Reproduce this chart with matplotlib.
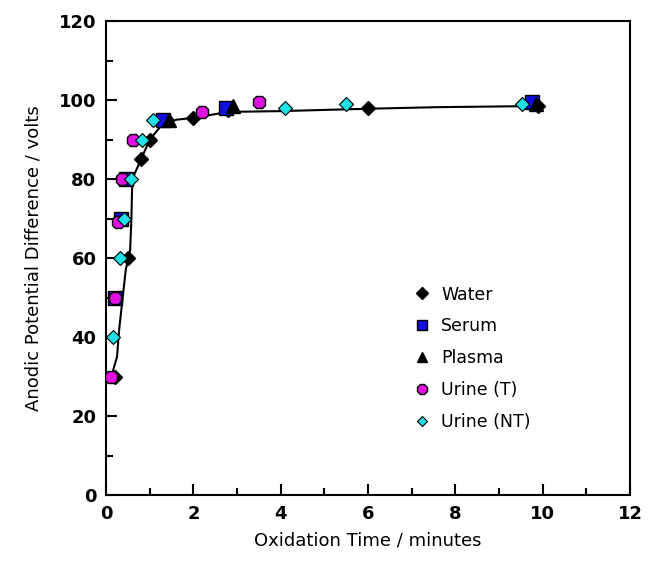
import numpy as np
import matplotlib
matplotlib.use('Agg')
import matplotlib.pyplot as plt
from matplotlib.ticker import MultipleLocator

# readings from the reference picture (minutes, volts)
water_t = [0.2, 0.5, 0.8, 1.0, 1.4, 2.0, 2.8, 6.0, 9.9]
water_v = [30, 60, 85, 90, 95, 95.5, 97.5, 98, 98.5]

serum_t = [0.2, 0.35, 0.45, 1.3, 2.75, 9.75]
serum_v = [50, 70, 80, 95, 98, 99.5]

plasma_t = [1.45, 2.9, 9.85]
plasma_v = [95, 98.5, 99]

urine_t_t = [0.12, 0.2, 0.28, 0.36, 0.62, 2.2, 3.5]
urine_t_v = [30, 50, 69, 80, 90, 97, 99.5]

urine_nt_t = [0.15, 0.32, 0.4, 0.56, 0.82, 1.08, 4.1, 5.5, 9.52]
urine_nt_v = [40, 60, 70, 80, 90, 95, 98, 99, 99]

# fitted curve
fit_t = [0.12, 0.25, 0.3, 0.38, 0.45, 0.55, 0.58, 0.6, 0.8, 1.0, 1.3, 1.6, 2.0, 2.8, 4.0, 6.0, 7.6, 10.0]
fit_v = [30, 35, 42, 50, 57, 62, 70, 80, 85, 90, 94, 95, 95.5, 97, 97.2, 97.8, 98.2, 98.5]

fig = plt.figure(figsize=(6.59, 5.69), dpi=100)
ax = fig.add_axes([0.161, 0.130, 0.795, 0.833])

ax.plot(fit_t, fit_v, '-', color='black', linewidth=1.5, zorder=2)

ms = 9.5
ax.plot(water_t, water_v, 'D', color='black', markersize=ms - 2, linestyle='none',
        label='Water', zorder=3)
ax.plot(serum_t, serum_v, 's', markerfacecolor='#1010e0', markeredgecolor='black',
        markersize=ms, linestyle='none', label='Serum', zorder=3)
ax.plot(plasma_t, plasma_v, '^', color='black', markersize=ms, linestyle='none',
        label='Plasma', zorder=3)
ax.plot(urine_t_t, urine_t_v, '8', markerfacecolor='#e010e0', markeredgecolor='black',
        markersize=ms, linestyle='none', label='Urine (T)', zorder=4)
ax.plot(urine_nt_t, urine_nt_v, 'D', markerfacecolor='#20e0e8', markeredgecolor='black',
        markersize=ms - 2.5, markeredgewidth=0.8, linestyle='none', label='Urine (NT)', zorder=5)

ax.set_xlim(0, 12)
ax.set_ylim(0, 120)
ax.xaxis.set_major_locator(MultipleLocator(2))
ax.xaxis.set_minor_locator(MultipleLocator(1))
ax.yaxis.set_major_locator(MultipleLocator(20))
ax.yaxis.set_minor_locator(MultipleLocator(10))
ax.tick_params(which='both', direction='in', top=False, right=False, width=1.5)
ax.tick_params(which='major', length=8, labelsize=13, pad=7)
ax.tick_params(which='minor', length=5)
for lab in ax.get_xticklabels() + ax.get_yticklabels():
    lab.set_fontweight('bold')
for sp in ax.spines.values():
    sp.set_linewidth(1.5)

ax.set_xlabel('Oxidation Time / minutes', fontsize=13, labelpad=6)
ax.set_ylabel('Anodic Potential Difference / volts', fontsize=13, labelpad=12)

leg = ax.legend(loc='upper left', bbox_to_anchor=(0.56, 0.475), frameon=False,
                fontsize=12.5, handlelength=0.8, handletextpad=0.7, labelspacing=0.8,
                markerscale=0.75)

fig.savefig('out.png', dpi=100)
